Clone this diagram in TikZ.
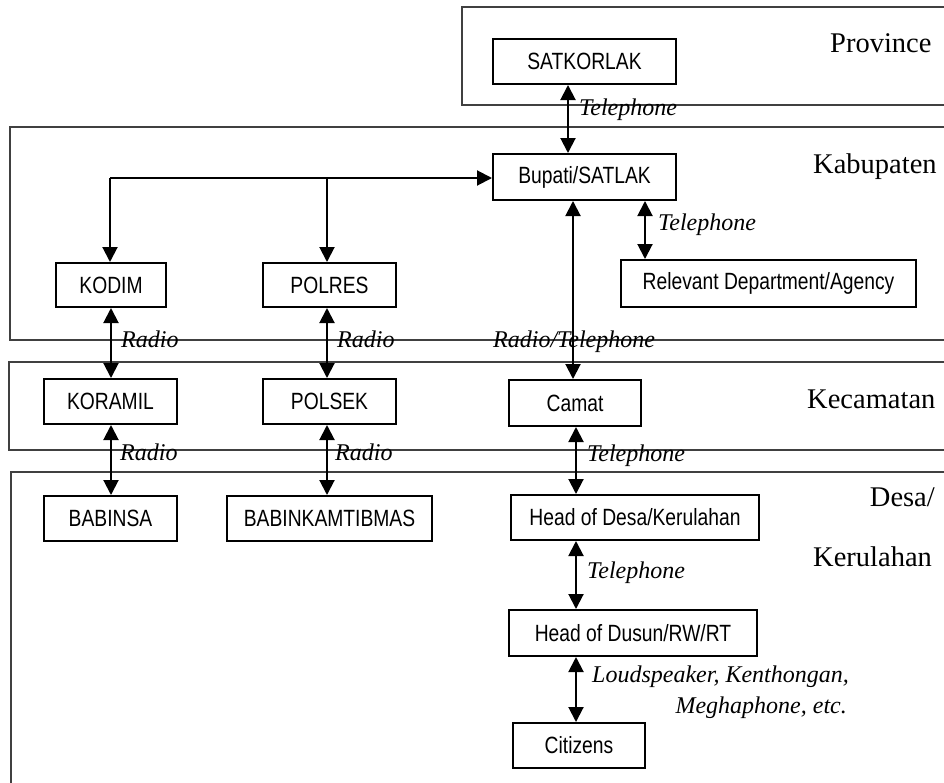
\documentclass[tikz,border=0pt]{standalone}
\usepackage{fontspec}
\setmainfont{Liberation Serif}
\newfontfamily\boxfont{Liberation Sans}[FakeStretch=0.82]
\usetikzlibrary{arrows.meta}
\begin{document}
\begin{tikzpicture}[x=1pt,y=-1pt,
  region/.style={draw=black!75,line width=1.6pt},
  unit/.style={draw,line width=2pt,inner sep=0pt,font=\boxfont\fontsize{23.5}{28}\selectfont},
  level/.style={font=\fontsize{28.5}{32}\selectfont,inner sep=0pt},
  medium/.style={font=\itshape\fontsize{24}{28}\selectfont,inner sep=0pt},
  link/.style={line width=2pt,{Triangle[width=15pt,length=15pt]}-{Triangle[width=15pt,length=15pt]}},
  feed/.style={line width=2pt,-{Triangle[width=15pt,length=15pt]}}]
\useasboundingbox (0,0) rectangle (944,782);
\clip (0,0) rectangle (944,782);

% administrative levels
\draw[region] (462,7) rectangle (960,105);
\draw[region] (10,127) rectangle (960,340);
\draw[region] (9,362) rectangle (960,450);
\draw[region] (11,472) rectangle (960,800);

% units
\node[unit,minimum width=183pt,minimum height=45pt] (sat) at (584.5,61.5) {SATKORLAK};
\node[unit,minimum width=183pt,minimum height=46pt] (bup) at (584.5,177) {Bupati/SATLAK};
\node[unit,minimum width=110pt,minimum height=44pt] (kodim) at (111,285) {KODIM};
\node[unit,minimum width=133pt,minimum height=44pt] (polres) at (329.5,285) {POLRES};
\node[unit,minimum width=295pt,minimum height=47pt] (rel) at (768.5,283.5) {Relevant Department/Agency};
\node[unit,minimum width=133pt,minimum height=45pt] (koramil) at (110.5,401.5) {KORAMIL};
\node[unit,minimum width=133pt,minimum height=45pt] (polsek) at (329.5,401.5) {POLSEK};
\node[unit,minimum width=132pt,minimum height=46pt] (camat) at (575,403) {Camat};
\node[unit,minimum width=133pt,minimum height=45pt] (babinsa) at (110.5,518.5) {BABINSA};
\node[unit,minimum width=205pt,minimum height=45pt] (babink) at (329.5,518.5) {BABINKAMTIBMAS};
\node[unit,minimum width=248pt,minimum height=45pt] (hdesa) at (635,517.5) {Head of Desa/Kerulahan};
\node[unit,minimum width=248pt,minimum height=46pt] (dusun) at (633,633) {Head of Dusun/RW/RT};
\node[unit,minimum width=132pt,minimum height=45pt] (cit) at (579,745.5) {Citizens};

% columns of the links
\coordinate (xsat) at (568,0);
\coordinate (xcam) at (573,0);
\coordinate (xrel) at (645,0);
\coordinate (xmil) at (111,0);
\coordinate (xpol) at (327,0);
\coordinate (xdes) at (576,0);
\coordinate (hub) at (110,178);
\coordinate (pj) at (327,178);

% links
\draw[link] (sat.south -| xsat) -- (bup.north -| xsat);
\draw[feed] (hub) -- (hub -| bup.west);
\draw[feed] (hub) -- (kodim.north -| hub);
\draw[feed] (pj) -- (polres.north -| pj);
\draw[link] (bup.south -| xrel) -- (rel.north -| xrel);
\draw[link] (bup.south -| xcam) -- (camat.north -| xcam);
\draw[link] (kodim.south -| xmil) -- (koramil.north -| xmil);
\draw[link] (polres.south -| xpol) -- (polsek.north -| xpol);
\draw[link] (koramil.south -| xmil) -- (babinsa.north -| xmil);
\draw[link] (polsek.south -| xpol) -- (babink.north -| xpol);
\draw[link] (camat.south -| xdes) -- (hdesa.north -| xdes);
\draw[link] (hdesa.south -| xdes) -- (dusun.north -| xdes);
\draw[link] (dusun.south -| xdes) -- (cit.north -| xdes);

% media
\node[medium,anchor=base west] (t1) at (579,115) {Telephone};
\node[medium,anchor=base west] (t2) at (658,230) {Telephone};
\node[medium,anchor=base west] (r1) at (121,347) {Radio};
\node[medium,anchor=base west] (r2) at (337,347) {Radio};
\node[medium,anchor=base west] (rt) at (493,347) {Radio/Telephone};
\node[medium,anchor=base west] (r3) at (120,460) {Radio};
\node[medium,anchor=base west] (r4) at (335,460) {Radio};
\node[medium,anchor=base west] (t3) at (587,461) {Telephone};
\node[medium,anchor=base west] (t4) at (587,578) {Telephone};
\node[medium,anchor=base west] (ls) at (592,682) {Loudspeaker, Kenthongan,};
\node[medium,anchor=base east] (mg) at (847,713) {Meghaphone, etc.};

% level names
\node[level,anchor=base west] (prov) at (830,52) {Province};
\node[level,anchor=base west] (kab) at (813,173) {Kabupaten};
\node[level,anchor=base west] (kec) at (807,408) {Kecamatan};
\node[level,anchor=base east] (desa) at (935,506) {Desa/};
\node[level,anchor=base west] (kel) at (813,566) {Kerulahan};
\end{tikzpicture}
\end{document}
